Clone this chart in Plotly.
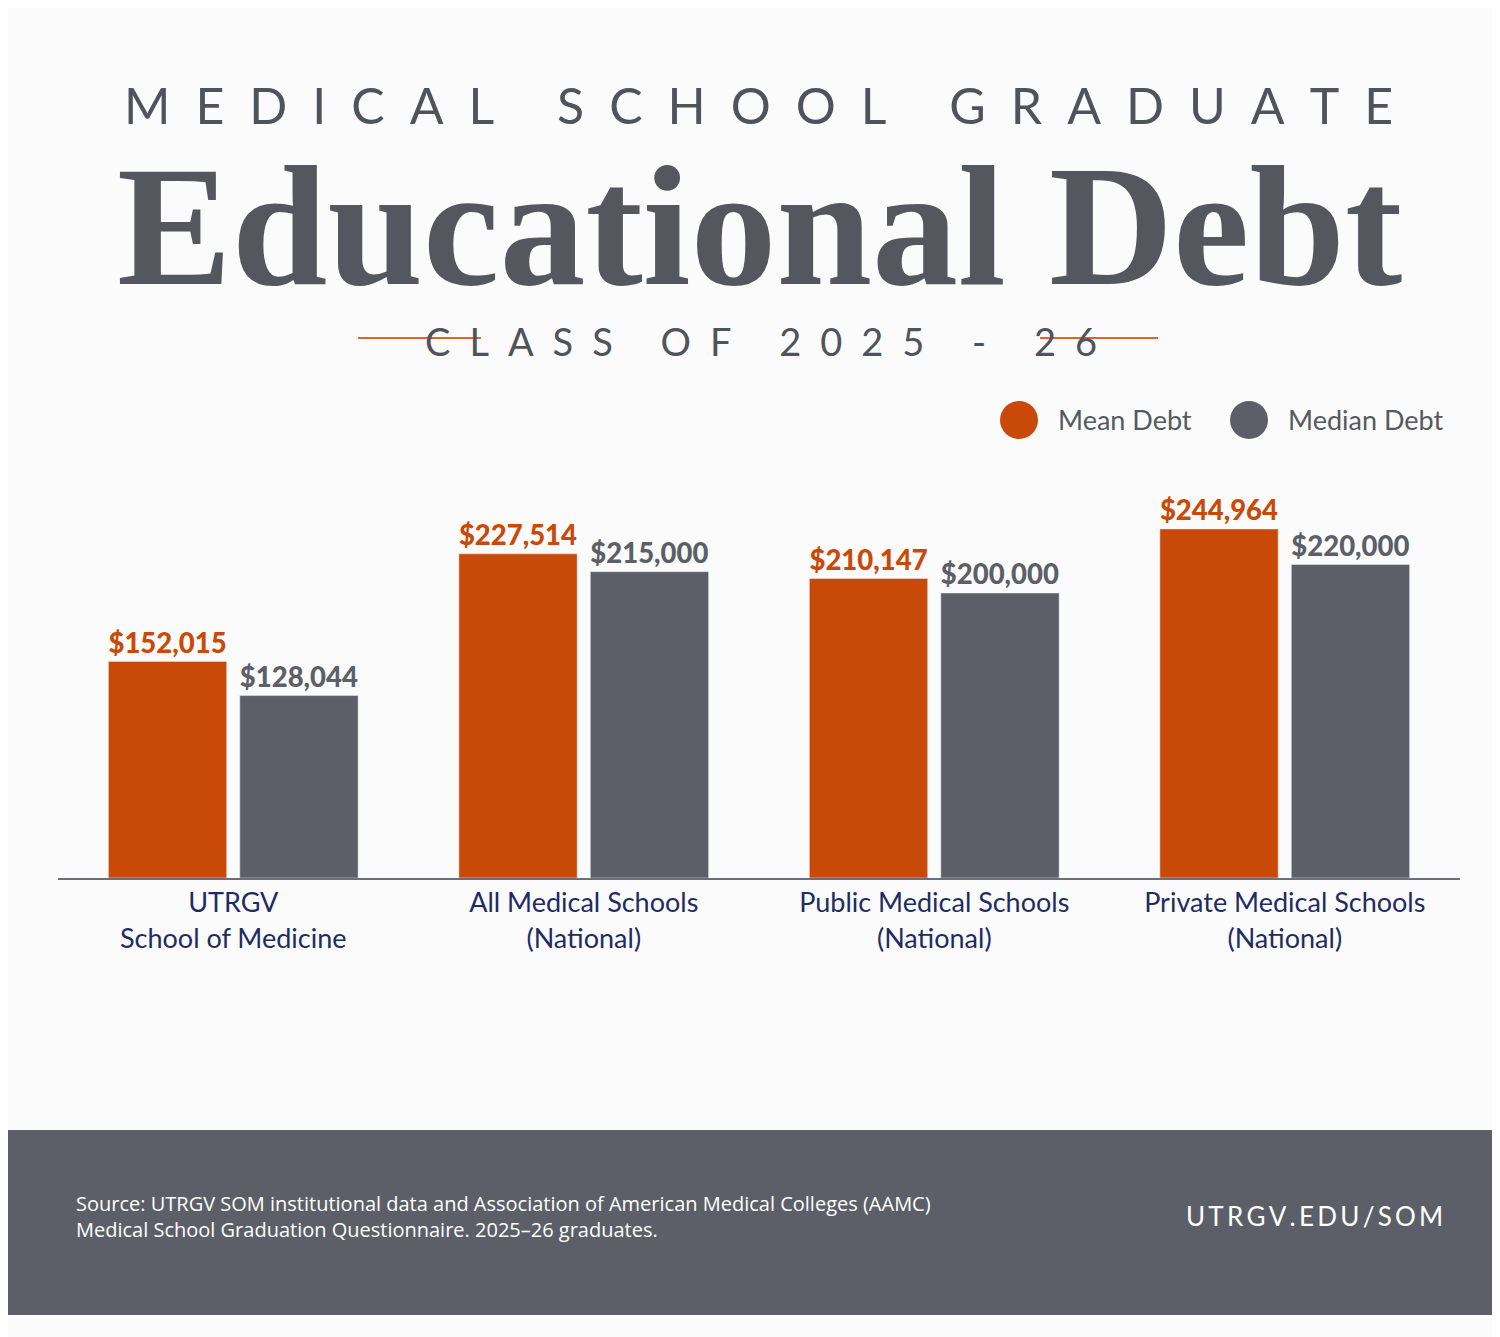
import plotly.graph_objects as go

categories = ["UTRGV<br>School of Medicine", "All Medical Schools<br>(National)",
              "Public Medical Schools<br>(National)", "Private Medical Schools<br>(National)"]
mean_debt = [152015, 227514, 210147, 244964]
median_debt = [128044, 215000, 200000, 220000]

ORANGE = "#c94a08"
GRAY = "#5c5f67"
NAVY = "#1f2b63"
H = 1337

def spaced(s, sep="\u2009"):
    return sep.join(s)

fig = go.Figure()
fig.add_trace(go.Bar(x=categories, y=mean_debt, marker_color=ORANGE, name="Mean Debt",
                     text=[f"${v:,}" for v in mean_debt], textposition="outside", cliponaxis=False,
                     textfont=dict(color=ORANGE, size=29, family="Lato Black, Lato")))
fig.add_trace(go.Bar(x=categories, y=median_debt, marker_color=GRAY, name="Median Debt",
                     text=[f"${v:,}" for v in median_debt], textposition="outside", cliponaxis=False,
                     textfont=dict(color=GRAY, size=29, family="Lato Black, Lato")))

fig.update_layout(
    width=1500, height=H, margin=dict(l=50, r=48, t=0, b=0),
    paper_bgcolor="#fbfbfb", plot_bgcolor="rgba(0,0,0,0)",
    barmode="group", bargap=0.25, bargroupgap=0.1, showlegend=False,
    font=dict(family="Lato"),
    xaxis=dict(showline=True, linecolor="#6a6f7a", linewidth=2, ticks="",
               tickfont=dict(color=NAVY, size=27, family="Lato"), fixedrange=True),
    yaxis=dict(range=[0, 315800], visible=False, domain=[1 - 870 / H, 1 - 420 / H]),
)

def py(y):
    return 1 - y / H

# footer
fig.add_shape(type="rect", xref="paper", yref="paper", x0=-0.05, x1=1.05, y0=py(1307), y1=py(1122),
              fillcolor="#5c5f67", line_width=0, layer="below")
# decorative lines near subtitle
for x0, x1 in [(350, 473), (1032, 1150)]:
    fig.add_shape(type="line", xref="paper", yref="paper", x0=(x0 - 50) / 1402, x1=(x1 - 50) / 1402,
                  y0=py(330), y1=py(330), line=dict(color="#e0642a", width=2))
# legend circles
for cx in [1011, 1241]:
    c = ORANGE if cx == 1011 else GRAY
    fig.add_shape(type="circle", xref="paper", yref="paper",
                  x0=(cx - 19 - 50) / 1402, x1=(cx + 19 - 50) / 1402, y0=py(431), y1=py(393),
                  fillcolor=c, line_width=0)

def ann(text, x, y, size, color, family="Lato", xanchor="center"):
    fig.add_annotation(text=text, xref="paper", yref="paper", x=(x - 50) / 1402, y=py(y),
                       showarrow=False, font=dict(size=size, color=color, family=family),
                       xanchor=xanchor, yanchor="middle")

ann(spaced("MEDICAL SCHOOL GRADUATE", "\u2002"), 750, 97, 50, "#4f535b", "Lato")
ann("<b>Educational Debt</b>", 752, 218, 172, "#54575e", "Liberation Serif")
ann(spaced("CLASS OF 2025 - 26", "\u2002"), 753, 333, 38, "#4f535b", "Lato")
ann("Mean Debt", 1048, 411, 27, "#555960", xanchor="left")
ann("Median Debt", 1278, 411, 27, "#555960", xanchor="left")
ann("Source: UTRGV SOM institutional data and Association of American Medical Colleges (AAMC)<br>"
    "Medical School Graduation Questionnaire. 2025–26 graduates.", 66, 1208, 20, "#ffffff",
    "Open Sans", xanchor="left")
fig.layout.annotations[-1].align = "left"
ann(spaced("UTRGV.EDU/SOM", "\u2009"), 1437, 1208, 26, "#ffffff", "Lato", xanchor="right")

fig.write_html("out.html")
